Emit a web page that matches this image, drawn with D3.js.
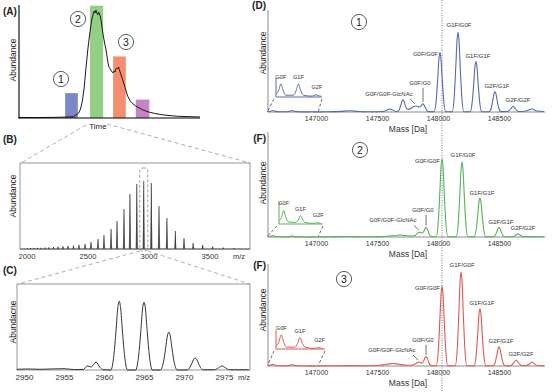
<!DOCTYPE html>
<html><head><meta charset="utf-8">
<script src="https://cdn.jsdelivr.net/npm/d3@7"></script>
<style>
body{margin:0;background:#fff}
svg{display:block}
text{font-family:"Liberation Sans",Arial,sans-serif;fill:#222}
</style>
</head><body>
<svg id="c" width="553" height="392"></svg>
<script>
// ================= DATA =================
// (A) chromatogram
const chromTime=[0,2,4,5.5,6,6.3,6.6,6.8,7,7.2,7.4,7.6,7.8,8,8.1,8.2,8.3,8.4,8.5,8.6,8.7,8.8,8.9,9,9.1,9.2,9.3,9.4,9.5,9.6,9.7,9.8,9.9,10,10.1,10.2,10.3,10.4,10.5,10.6,10.7,10.8,10.9,11,11.1,11.2,11.4,11.6,11.8,12,12.3,12.6,12.9,13.3,13.7,14.3,15,16,17.5,20];
const chromAbund=[0.5,0.4,0.6,0.9,1.4,2.8,4.6,8.3,15.7,27.8,46.3,63,76.9,88.9,93.5,96.3,99,97.2,100,97.2,95.4,98.1,96.3,93.5,88.9,82.4,76.9,72.2,67.6,63.9,58.3,52.8,48.1,46.3,45.4,43.5,42.6,41.7,43.5,42.6,45.4,46.3,45.4,47.2,44.4,41.7,37,31.5,25.9,20.4,15.7,13,11.1,9.3,7.4,5.6,4.2,2.8,1.6,0.9];
const fractionStart=[5.1,7.85,10.4,12.9];
const fractionEnd=[6.5,9.3,11.8,14.4];
const fractionHeight=[23,104,57,17];
const fractionNames=["1","2","3"];

// (B) charge-state envelope
const envMz=[2008,2033,2061,2090,2119,2152,2184,2221,2258,2299,2340,2385,2430,2480,2529,2586,2635,2693,2742,2799,2848,2904,2961,3023,3086,3151,3220,3291,3366,3444,3526,3612,3702];
const envAbund=[0.9,1.2,1.2,1.4,1.5,1.7,2,2.3,2.7,3.1,3.5,4.1,4.9,5.8,8.1,11.6,16.3,23.3,32.6,46.5,64,75.6,79,76.7,50,36,20.9,12.8,7,4.7,2.9,1.7,1.2];
const ticksB=[2000,2500,3000,3500];
const zoomCharge=2961;

// (C) zoom on one charge state
const zoomSpectrum=[[2949.1,0.8],[2950.5,1.2],[2952,0.8],[2953.5,1.2],[2955,1.5],[2956.3,0.5],[2957.4,0.5],[2957.9,4.7],[2958.4,3.5],[2959,9.3],[2959.5,3],[2959.9,0.3],
 [2960.85,0],[2961.23,16.8],[2961.5,45.6],[2961.72,72],[2961.9,80],[2962.08,72],[2962.3,45.6],[2962.57,16.8],[2962.95,0],
 [2963.95,0],[2964.33,16.6],[2964.6,45],[2964.82,71],[2965,79],[2965.18,71],[2965.4,45],[2965.67,16.6],[2966.05,0],
 [2967.05,0],[2967.43,9.2],[2967.7,25],[2967.92,39.6],[2968.1,44],[2968.28,39.6],[2968.5,25],[2968.77,9.2],[2969.15,0],
 [2970.4,0],[2970.73,2.9],[2971,8],[2971.22,12.6],[2971.4,14],[2971.58,12.6],[2971.8,8],[2972.07,2.9],[2972.4,0.3],
 [2973.8,0.3],[2974.35,2.7],[2974.75,4.7],[2975.15,2.7],[2975.7,0.3],[2976.8,0.3],[2978.1,0.3]];
const ticksC=[2950,2955,2960,2965,2970,2975];

// (D)/(F) deconvoluted spectra, mass [Da] vs abundance
const spectrum1=[[146600,0.3],[146625,0.75],[146645,1.45],[146665,0.75],[146690,0.2],[146760,0.2],[146785,0.75],[146805,1.45],[146825,0.75],[146850,0.2],[146920,0.1],[146945,0.15],[146965,0.25],[146985,0.15],[147010,0.1],
 [147100,0.3],[147200,0.6],[147280,1.2],[147350,0.5],[147450,0.3],[147560,0.8],[147607,3],[147650,0.8],
 [147668,0.5],[147683,2.5],[147695,6.8],[147705,10.8],[147713,12],[147721,10.8],[147731,6.8],[147745,3],[147765,2.8],
 [147795,5],[147820,6],[147845,5],[147861,6],[147869,7.5],[147877,8],[147885,7],[147897,4],[147922,0.4],
 [147968,0.3],[147986,12.4],[147998,33.6],[148008,53],[148016,59],[148024,53],[148034,33.6],[148046,12.4],[148064,0.3],
 [148116,0.3],[148134,16.6],[148146,45],[148156,71],[148164,79],[148172,71],[148182,45],[148194,16.6],[148212,0.3],
 [148263,0.3],[148281,10.5],[148293,28.5],[148303,45],[148311,50],[148319,45],[148329,28.5],[148341,10.5],[148359,0.3],
 [148419,0.3],[148437,4.2],[148449,11.4],[148459,18],[148467,20],[148475,18],[148485,11.4],[148497,4.2],[148515,0.4],
 [148570,0.5],[148597,3.4],[148615,6],[148633,3.4],[148660,0.5],[148720,1],[148770,3],[148810,1],[148870,0.5]];
const spectrum2=[[146600,0.3],[146625,0.65],[146645,1.3],[146665,0.65],[146690,0.2],[146760,0.15],[146785,0.4],[146805,0.8],[146825,0.4],[146850,0.15],[146930,0.05],[146965,0.12],[147000,0.05],
 [147100,0.2],[147250,0.5],[147400,0.3],[147520,0.4],[147600,1],[147660,1.5],[147689,2],[147720,1.5],[147770,1],
 [147810,1.5],[147830,3.5],[147852,4.5],[147870,3.8],[147884,5.5],[147894,8.2],[147902,9],[147910,8.2],[147920,5.1],[147932,1.9],[147950,0.3],
 [147985,0.3],[148003,15.8],[148015,42.8],[148025,67.5],[148033,75],[148041,67.5],[148051,42.8],[148063,15.8],[148081,0.3],
 [148149,0.3],[148167,15.1],[148179,41],[148189,64.8],[148197,72],[148205,64.8],[148215,41],[148227,15.1],[148245,0.3],
 [148296,0.3],[148314,7.9],[148326,21.4],[148336,33.8],[148344,37.5],[148352,33.8],[148362,21.4],[148374,7.9],[148392,0.3],
 [148452,0.3],[148470,1.9],[148482,5.1],[148492,8.1],[148500,9],[148508,8.1],[148518,5.1],[148530,1.9],[148548,0.3],
 [148611,0.3],[148638,1.7],[148656,3],[148674,1.7],[148701,0.3],[148780,0.5],[148870,0.3]];
const spectrum3=[[146600,0.3],[146625,0.8],[146645,1.58],[146665,0.8],[146690,0.2],[146760,0.2],[146785,0.63],[146805,1.26],[146825,0.63],[146850,0.2],[146930,0.05],[146965,0.15],[147000,0.05],
 [147100,0.2],[147250,0.4],[147400,0.3],[147520,0.8],[147580,1.8],[147631,2.5],[147680,1.8],[147740,0.8],[147790,1],
 [147820,2.5],[147844,4],[147865,3],[147884,5.5],[147894,8.2],[147902,9],[147910,8.2],[147920,5.1],[147932,1.9],[147950,0.3],
 [147985,0.3],[148003,16.6],[148015,45],[148025,71],[148033,79],[148041,71],[148051,45],[148063,16.6],[148081,0.3],
 [148141,0.3],[148159,19.5],[148171,53],[148181,83.7],[148189,93],[148197,83.7],[148207,53],[148219,19.5],[148237,0.3],
 [148296,0.3],[148314,12],[148326,32.5],[148336,51.3],[148344,57],[148352,51.3],[148362,32.5],[148374,12],[148392,0.3],
 [148452,0.3],[148470,4],[148482,10.8],[148492,17.1],[148500,19],[148508,17.1],[148518,10.8],[148530,4],[148548,0.3],
 [148595,0.3],[148622,3.4],[148640,6],[148658,3.4],[148685,0.5],
 [148725,0.5],[148750,2],[148770,4],[148790,2],[148815,0.5],[148870,0.3]];
const massTicks=[147000,147500,148000,148500];
const referenceMass=148033;

const glycoforms=["G0F/G0F-GlcNAc","G0F/G0","G0F/G0F","G1F/G0F","G1F/G1F","G2F/G1F","G2F/G2F"];
const peakMass1=[147820,147877,148016,148164,148311,148467,148615];
const peakAbund1=[6,8,59,79,50,20,6];
const peakMass2=[147852,147902,148033,148197,148344,148500,148656];
const peakAbund2=[4.5,9,75,72,37.5,9,3];
const peakMass3=[147844,147902,148033,148189,148344,148500,148640];
const peakAbund3=[4,9,79,93,57,19,6];

const lightChains=["G0F","G1F","G2F"];
const lcMass=[146645,146805,146965];
const lcAbund1=[1.45,1.45,0.25];
const lcAbund2=[1.3,0.8,0.12];
const lcAbund3=[1.58,1.26,0.15];
const insetRange=[146600,147020];

// ================= STYLE / LAYOUT =================
const fractionColors=["#7d87c8","#93cf85","#f58e6e","#c585c5"];
const seriesColors=["#5769b5","#55b455","#e3584e"];
const axisGray="#8a8a8a";
const svg=d3.select("#c");

function txt(x,y,s,opt={}){
  const t=svg.append("text").attr("x",x).attr("y",y).text(s)
   .attr("font-size",opt.size||8).attr("text-anchor",opt.anchor||"middle");
  if(opt.bold) t.attr("font-weight","bold");
  if(opt.rot) t.attr("transform",`rotate(-90,${x},${y})`);
  if(opt.fill) t.style("fill",opt.fill);
  return t;
}
function seg(x1,y1,x2,y2,stroke,w,dash){
  const l=svg.append("line").attr("x1",x1).attr("y1",y1).attr("x2",x2).attr("y2",y2)
   .attr("stroke",stroke).attr("stroke-width",w||1);
  if(dash) l.attr("stroke-dasharray",dash);
  return l;
}
function circled(cx,cy,s){
  svg.append("circle").attr("cx",cx).attr("cy",cy).attr("r",7.6).attr("fill","#fff").attr("stroke","#333").attr("stroke-width",0.8);
  txt(cx,cy+3.6,s,{size:10.5});
}

// ================= PANEL A =================
const xA=d3.scaleLinear([0,20],[19,200]);
const yA=d3.scaleLinear([0,100],[118,10]);
fractionStart.forEach((s,i)=>{
  svg.append("rect").attr("x",xA(s)).attr("y",yA(fractionHeight[i]))
   .attr("width",xA(fractionEnd[i])-xA(s)).attr("height",yA(0)-yA(fractionHeight[i]))
   .attr("fill",fractionColors[i]);
});
svg.append("path").datum(d3.zip(chromTime,chromAbund))
  .attr("d",d3.line().x(d=>xA(d[0])).y(d=>yA(d[1])))
  .attr("fill","none").attr("stroke","#1a1a1a").attr("stroke-width",1);
seg(19,5,19,118.5,"#000",1.1);
seg(18.5,118,200,118,"#000",1.1);
txt(3,15,"(A)",{size:10,bold:true,anchor:"start"});
txt(13,60,"Abundance",{size:8.5,rot:true}).attr("dy","0.35em");
txt(98,129,"Time",{size:8});
circled(61,79,fractionNames[0]);
circled(78,19,fractionNames[1]);
circled(126,42,fractionNames[2]);

// connectors A -> B
seg(86,125,21,163,"#9a9a9a",0.8,"4,3");
seg(107,124,250,163,"#9a9a9a",0.8,"4,3");

// ================= PANEL B =================
const xB=d3.scaleLinear([2000,3500],[26.5,209.5]);
const yB=d3.scaleLinear([0,100],[249,163]);
svg.append("rect").attr("x",20).attr("y",163).attr("width",230).attr("height",86)
  .attr("fill","none").attr("stroke",axisGray).attr("stroke-width",0.9);
envMz.forEach((m,i)=>{
  const px=xB(m),top=yB(envAbund[i]);
  svg.append("path").attr("d",`M${px-1.2},${yB(0)}L${px},${top}L${px+1.2},${yB(0)}Z`).attr("fill","#777");
  seg(px,yB(0),px,top,"#222",0.8);
});
seg(20,249,250,249,"#555",0.9);
svg.append("rect").attr("x",xB(zoomCharge)-4).attr("y",168).attr("width",8).attr("height",83).attr("rx",3)
  .attr("fill","none").attr("stroke","#888").attr("stroke-width",0.8).attr("stroke-dasharray","3,2");
const axB=svg.append("g").attr("transform","translate(0,249)")
  .call(d3.axisBottom(xB).tickValues(ticksB).tickSize(0).tickFormat(d3.format("d")));
axB.select(".domain").remove();
axB.selectAll("text").attr("y",4.5).attr("font-size",7.6).attr("font-family",'"Liberation Sans",Arial,sans-serif').style("fill","#333");
txt(239,259,"m/z",{size:7.5}).style("fill","#333");
txt(3,143,"(B)",{size:10,bold:true,anchor:"start"});
txt(13,196,"Abundance",{size:8.5,rot:true}).attr("dy","0.35em");

// connectors B -> C
seg(140,251,18,284,"#9a9a9a",0.8,"4,3");
seg(147.5,251,250,284,"#9a9a9a",0.8,"4,3");

// ================= PANEL C =================
const xC=d3.scaleLinear([2950,2975],[24,224]);
const yC=d3.scaleLinear([0,100],[370,284]);
svg.append("rect").attr("x",17).attr("y",284).attr("width",233).attr("height",86)
  .attr("fill","none").attr("stroke",axisGray).attr("stroke-width",0.9);
svg.append("path").datum(zoomSpectrum)
  .attr("d",d3.line().curve(d3.curveMonotoneX).x(d=>xC(d[0])).y(d=>yC(d[1])))
  .attr("fill","none").attr("stroke","#333").attr("stroke-width",1);
const axC=svg.append("g").attr("transform","translate(0,370)")
  .call(d3.axisBottom(xC).tickValues(ticksC).tickSize(0).tickFormat(d3.format("d")));
axC.select(".domain").remove();
axC.selectAll("text").attr("y",4.5).attr("font-size",8).attr("font-family",'"Liberation Sans",Arial,sans-serif').style("fill","#333");
txt(244,380,"m/z",{size:7.6}).style("fill","#333");
txt(3,274,"(C)",{size:10,bold:true,anchor:"start"});
txt(13,322,"Abundacne",{size:8.5,rot:true}).attr("dy","0.35em");

// ================= PANELS D / F =================
const xM=d3.scaleLinear([147000,148500],[316,499]);
seg(xM(referenceMass),0,xM(referenceMass),392,"#555",0.8,"1,1.5");

const panels=[
 {spec:spectrum1,pm:peakMass1,pa:peakAbund1,la:lcAbund1,base:112,top:11,letter:"(D)",letterY:9,num:"1",cx:359,cy:22,iBase:97,iTop:78,iX0:276,iX1:322,absY:53,g0Dy:-21},
 {spec:spectrum2,pm:peakMass2,pa:peakAbund2,la:lcAbund2,base:237,top:133,letter:"(F)",letterY:142,num:"2",cx:360,cy:150,iBase:224,iTop:202,iX0:279,iX1:323,absY:183,g0Dy:-18},
 {spec:spectrum3,pm:peakMass3,pa:peakAbund3,la:lcAbund3,base:366,top:265,letter:"(F)",letterY:269,num:"3",cx:344,cy:279,iBase:349,iTop:330,iX0:276,iX1:325,absY:310,g0Dy:-17}
];
// label offsets relative to peak apex (px): dx, dy(center), anchor
const labelLayout=[[-27,-12,"middle"],[-3,-19,"middle"],[-2,1.5,"end"],[1,-7,"middle"],[2,-5.5,"middle"],[2,-6,"middle"],[5,-6,"middle"]];

panels.forEach((p,k)=>{
  const col=seriesColors[k];
  const y=d3.scaleLinear([0,100],[p.base,p.top]);
  const x0=xM(146600), x1=xM(148870);
  seg(268,p.top-1,268,p.base,axisGray,1);
  seg(268,p.base,x1+1,p.base,axisGray,1);
  svg.append("path").datum(p.spec)
    .attr("d",d3.line().curve(d3.curveMonotoneX).x(d=>xM(d[0])).y(d=>y(d[1])))
    .attr("fill","none").attr("stroke",col).attr("stroke-width",1.1);
  const ax=svg.append("g").attr("transform",`translate(0,${p.base})`)
    .call(d3.axisBottom(xM).tickValues(massTicks).tickSize(0).tickFormat(d3.format("d")));
  ax.select(".domain").remove();
  ax.selectAll("text").attr("y",4).attr("font-size",7).attr("font-family",'"Liberation Sans",Arial,sans-serif').style("fill","#333");
  txt(408,p.base+19.5,"Mass [Da]",{size:8.5}).style("fill","#333");
  txt(266,p.letterY,p.letter,{size:10,bold:true,anchor:"end"});
  txt(263,p.absY,"Abundance",{size:8.5,rot:true}).attr("dy","0.35em");
  circled(p.cx,p.cy,p.num);

  // inset (magnified light-chain region)
  const xi=d3.scaleLinear(insetRange,[p.iX0,p.iX1]);
  const yi=d3.scaleLinear([0,2],[p.iBase,p.iTop+1]);
  seg(p.iX0,p.iTop,p.iX0,p.iBase,col,1);
  svg.append("path").datum(p.spec.filter(d=>d[0]<=insetRange[1]))
    .attr("d",d3.line().curve(d3.curveMonotoneX).x(d=>xi(d[0])).y(d=>yi(d[1])))
    .attr("fill","none").attr("stroke",col).attr("stroke-width",1);
  seg(p.iX0,p.iBase,p.iX1,p.iBase,col,1);
  seg(p.iX0-2,p.iBase+2,x0+0.5,p.base-1,"#444",0.8,"3,2");
  seg(p.iX1,p.iBase+2,xM(insetRange[1]),p.base-1,"#444",0.8,"3,2");
  lightChains.forEach((s,i)=>{
    txt(xi(lcMass[i])+(i===2?1:0),yi(p.la[i])-(i===2?6:5),s,{size:5.6}).style("fill","#333");
  });

  glycoforms.forEach((g,i)=>{
    const px=xM(p.pm[i]), py=y(p.pa[i]);
    const L=labelLayout[i];
    const dy=i===1?p.g0Dy:L[1];
    const cx=px+L[0], cyy=py+dy;
    txt(cx,cyy,g,{size:6,anchor:L[2]}).attr("dy","0.35em").style("fill","#333");
    if(i===0) seg(px-6,cyy+5,px-1,py-2,"#333",0.7);
    if(i===1) seg(px,cyy+5,px,py-2,"#333",0.7);
  });
});
</script>
</body></html>
